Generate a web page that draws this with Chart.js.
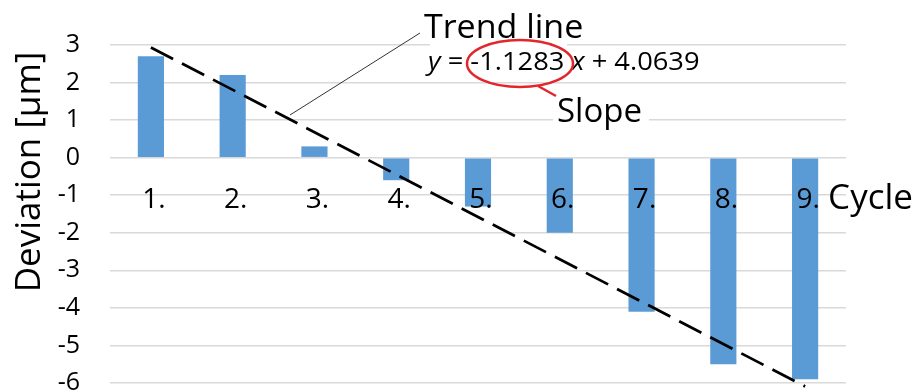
<!DOCTYPE html>
<html>
<head>
<meta charset="utf-8">
<title>Deviation per cycle</title>
<script src="https://cdn.jsdelivr.net/npm/chart.js@4.4.1/dist/chart.umd.min.js"></script>
<style>
  html, body { margin: 0; padding: 0; background: #fff; }
  #wrap { width: 916px; height: 392px; }
  canvas { display: block; }
</style>
</head>
<body>
<div id="wrap"><canvas id="chart" width="916" height="392"></canvas></div>
<script>
// Measured deviation for each machining cycle
const CYCLES = ['1.', '2.', '3.', '4.', '5.', '6.', '7.', '8.', '9.'];
const DEVIATION = [2.7, 2.2, 0.3, -0.6, -1.3, -2.0, -4.1, -5.5, -5.9];

// Value axis range
const Y_MIN = -6;
const Y_MAX = 3;
const Y_STEP = 1;

// Linear trend fitted to the deviations
const TREND_SLOPE = -1.1283;
const TREND_INTERCEPT = 4.0639;

const FONT = '"Open Sans", "Noto Sans", sans-serif';
const BAR_BLUE = '#5B9BD5';
const GRID_GREY = '#D9D9D9';
const MARK_RED = '#E3262D';

// Trend line only needs its two end points (first and last cycle)
const trendData = CYCLES.map((c, i) =>
  (i === 0 || i === CYCLES.length - 1) ? TREND_SLOPE * (i + 1) + TREND_INTERCEPT : null
);

function text(ctx, str, x, y, size, opts = {}) {
  ctx.save();
  ctx.font = (opts.italic ? 'italic ' : '') + size + 'px ' + FONT;
  ctx.fillStyle = opts.color || '#000';
  ctx.textAlign = opts.align || 'left';
  ctx.textBaseline = 'alphabetic';
  ctx.translate(x, y);
  if (opts.rotate) ctx.rotate(opts.rotate);
  if (opts.sx) ctx.scale(opts.sx, 1);
  ctx.fillText(str, 0, 0);
  const w = ctx.measureText(str).width * (opts.sx || 1);
  ctx.restore();
  return w;
}

const decorations = {
  id: 'decorations',
  afterDraw(chart) {
    const ctx = chart.ctx;
    const xs = chart.scales.x;
    const ys = chart.scales.y;

    // Axis title
    text(ctx, 'Deviation [μm]', 40, 172, 35, { align: 'center', rotate: -Math.PI / 2 });

    // Cycle labels sit along the -1 gridline
    const labelBase = ys.getPixelForValue(-1) + 13;
    CYCLES.forEach((c, i) => {
      text(ctx, c, xs.getPixelForValue(i) + 3, labelBase, 28, { align: 'center' });
    });
    text(ctx, 'Cycle', xs.getPixelForValue(CYCLES.length - 1) + 23, labelBase + 1, 35);

    // "Trend line" callout
    ctx.save();
    ctx.fillStyle = '#fff';
    ctx.fillRect(430, 0, 137, 47);
    ctx.fillRect(553, 95, 96, 30);
    ctx.strokeStyle = '#333';
    ctx.lineWidth = 1;
    ctx.beginPath();
    ctx.moveTo(420, 33);
    ctx.lineTo(290, 115);
    ctx.stroke();
    ctx.restore();
    text(ctx, 'Trend line', 424, 38, 33, { sx: 1.03 });

    // Trend equation
    let x = 428;
    const eqY = 70, eqS = 26, sx = 1.05;
    x += text(ctx, 'y', x, eqY, eqS, { italic: true, sx });
    x += text(ctx, ' = ', x, eqY, eqS, { sx });
    x += text(ctx, TREND_SLOPE.toFixed(4), x, eqY, eqS, { sx });
    x += text(ctx, ' ', x, eqY, eqS, { sx });
    x += text(ctx, 'x', x, eqY, eqS, { italic: true, sx });
    text(ctx, ' + ' + TREND_INTERCEPT.toFixed(4), x, eqY, eqS, { sx });

    // Slope highlight
    ctx.save();
    ctx.strokeStyle = MARK_RED;
    ctx.lineWidth = 2.5;
    ctx.beginPath();
    ctx.ellipse(520, 63.5, 53, 23.5, 0, 0, Math.PI * 2);
    ctx.stroke();
    ctx.beginPath();
    ctx.moveTo(538, 86);
    ctx.lineTo(556, 96);
    ctx.stroke();
    ctx.restore();
    text(ctx, 'Slope', 557, 122, 33);
  }
};

new Chart(document.getElementById('chart'), {
  type: 'bar',
  data: {
    labels: CYCLES,
    datasets: [
      {
        type: 'line',
        label: 'Trend',
        data: trendData,
        spanGaps: true,
        borderColor: '#000',
        borderWidth: 2.75,
        borderDash: [25, 10],
        pointRadius: 0,
        fill: false,
        clip: false,
        order: 0
      },
      {
        type: 'bar',
        label: 'Deviation',
        data: DEVIATION,
        backgroundColor: BAR_BLUE,
        borderWidth: 0,
        categoryPercentage: 1,
        barPercentage: 0.32,
        order: 1
      }
    ]
  },
  options: {
    responsive: false,
    animation: false,
    devicePixelRatio: 1,
    layout: { padding: { left: 0, top: 45, right: 70, bottom: 9 } },
    plugins: { legend: { display: false }, tooltip: { enabled: false } },
    scales: {
      x: { display: false },
      y: {
        min: Y_MIN,
        max: Y_MAX,
        border: { display: false },
        grid: { color: GRID_GREY, lineWidth: 1.5, drawTicks: false },
        ticks: {
          stepSize: Y_STEP,
          padding: 30,
          color: '#000',
          font: { family: FONT, size: 25 },
          callback: v => String(v)
        },
        afterFit(scale) {
          // fixed axis width; outer padding comes from the layout
          scale.width = 110;
          scale.paddingTop = 0;
          scale.paddingBottom = 0;
        }
      }
    }
  },
  plugins: [decorations]
});
</script>
</body>
</html>
